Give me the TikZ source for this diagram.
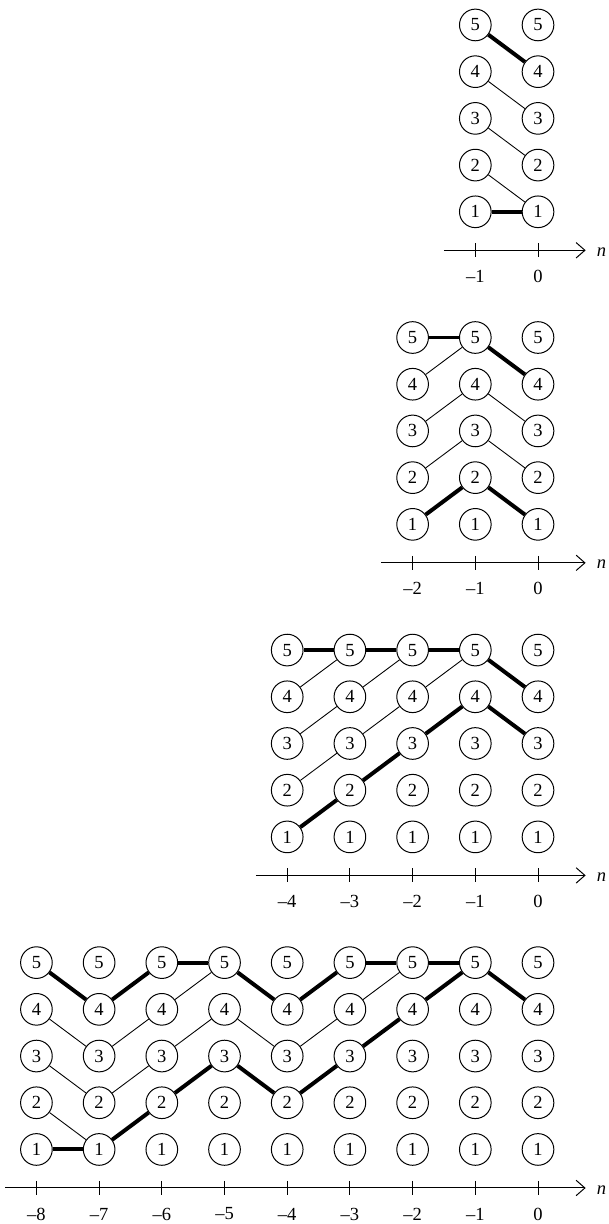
\documentclass[tikz,border=0pt]{standalone}
\usepackage{fontspec}
\setmainfont{Liberation Serif}
\usetikzlibrary{arrows.meta}
\begin{document}
\begin{tikzpicture}[
vertex/.style={circle,draw,line width=0.45pt,minimum size=5.05mm,inner sep=0pt,font=\fontsize{8.4}{10}\selectfont},
thinedge/.style={line width=0.4pt},
thickedge/.style={line width=1.8pt},
axisline/.style={line width=0.45pt,-{Straight Barb[length=4pt,width=7pt]}},
ticklabel/.style={font=\fontsize{8.4}{10}\selectfont,inner sep=0pt}
]
\useasboundingbox (-8.581,0.399) rectangle (1.132,-19.123);
% grids of states, one panel per horizon
\foreach \p/\n/\y in {A/1/0,B/2/-4.985,C/4/-9.97,D/8/-14.955}{
    \foreach \c in {0,...,\n}{
        \foreach \r in {1,...,5}
            \node[vertex] (\p\c-\r) at (-\c,\y-3.724+0.745*\r) {\r};
        \coordinate (\p\c-t) at (-\c,\y-3.593);
        \draw[line width=0.45pt] ([yshift=3.2pt]\p\c-t) -- ([yshift=-3.2pt]\p\c-t);
    }
    \foreach \c in {1,...,\n}
        \node[ticklabel] (\p\c-lab) at (-\c,\y-4.008) {\textendash\c};
    \node[ticklabel] (\p0-lab) at (0,\y-4.008) {0};
    \coordinate (\p-start) at (-\n-0.5,\y-3.593);
    \coordinate (\p-end) at (0.76,\y-3.593);
    \draw[axisline] (\p-start) -- (\p-end);
    \node[ticklabel,anchor=west] (\p-n) at (0.93,\y-3.62) {\textit{n}};
}
% horizon 1
\foreach \a/\b in {A1-4/A0-3,A1-3/A0-2,A1-2/A0-1}
    \draw[thinedge] (\a) -- (\b);
\foreach \a/\b in {A1-5/A0-4,A1-1/A0-1}
    \draw[thickedge] (\a) -- (\b);
% horizon 2
\foreach \a/\b in {B2-4/B1-5,B2-3/B1-4,B2-2/B1-3,B1-4/B0-3,B1-3/B0-2}
    \draw[thinedge] (\a) -- (\b);
\foreach \a/\b in {B2-5/B1-5,B1-5/B0-4,B2-1/B1-2,B1-2/B0-1}
    \draw[thickedge] (\a) -- (\b);
% horizon 4
\foreach \a/\b in {C4-4/C3-5,C3-4/C2-5,C2-4/C1-5,C4-3/C3-4,C3-3/C2-4,C4-2/C3-3}
    \draw[thinedge] (\a) -- (\b);
\foreach \a/\b in {C4-5/C3-5,C3-5/C2-5,C2-5/C1-5,C1-5/C0-4,C4-1/C3-2,C3-2/C2-3,C2-3/C1-4,C1-4/C0-3}
    \draw[thickedge] (\a) -- (\b);
% horizon 8
\foreach \a/\b in {D8-4/D7-3,D8-3/D7-2,D8-2/D7-1,D7-3/D6-4,D7-2/D6-3,D6-4/D5-5,D6-3/D5-4,D5-4/D4-3,D4-3/D3-4,D3-4/D2-5}
    \draw[thinedge] (\a) -- (\b);
\foreach \a/\b in {D8-5/D7-4,D7-4/D6-5,D6-5/D5-5,D5-5/D4-4,D4-4/D3-5,D3-5/D2-5,D2-5/D1-5,D1-5/D0-4}
    \draw[thickedge] (\a) -- (\b);
\foreach \a/\b in {D8-1/D7-1,D7-1/D6-2,D6-2/D5-3,D5-3/D4-2,D4-2/D3-3,D3-3/D2-4,D2-4/D1-5}
    \draw[thickedge] (\a) -- (\b);
\end{tikzpicture}
\end{document}
